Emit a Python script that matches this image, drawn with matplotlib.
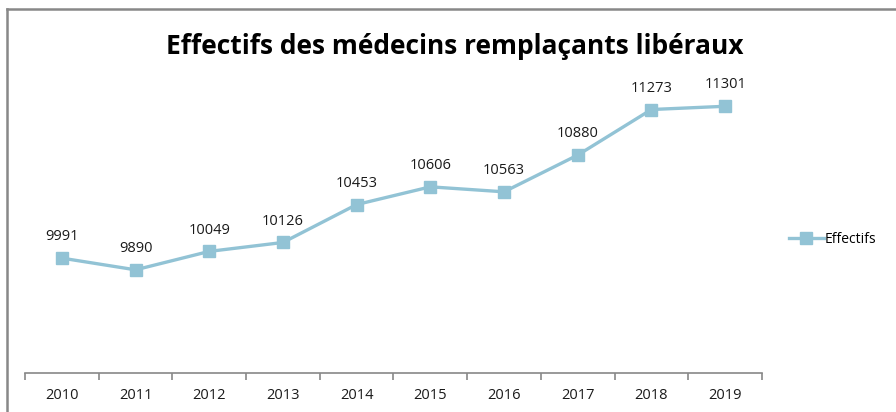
import matplotlib.pyplot as plt
import numpy as np

annees = ['2010', '2011', '2012', '2013', '2014', '2015', '2016', '2017', '2018', '2019']
effectifs = [9991, 9890, 10049, 10126, 10453, 10606, 10563, 10880, 11273, 11301]

couleur = '#92c3d5'
gris = '#888888'

plt.rcParams['font.family'] = ['Open Sans', 'DejaVu Sans']

fig = plt.figure(figsize=(8.96, 4.12), dpi=100)
ax = fig.add_axes([0.0279, 0.0947, 0.8225, 0.844])

x = np.arange(len(annees))
ax.plot(x, effectifs, color=couleur, lw=2.4, marker='s', ms=9, label='Effectifs')

for xi, v in zip(x, effectifs):
    ax.annotate(str(v), (xi, v), xytext=(0, 10), textcoords='offset points',
                ha='center', va='bottom', fontsize=10.5, color='#1a1a1a')

ax.set_xlim(-0.5, len(annees) - 0.5)
ax.set_ylim(9000, 12000)
ax.set_yticks([])
ax.set_xticks(x)
ax.set_xticklabels(annees, fontsize=10.5, color='#1a1a1a')
ax.tick_params(axis='x', which='major', length=0, pad=11)
ax.set_xticks(np.arange(-0.5, len(annees)), minor=True)
ax.tick_params(axis='x', which='minor', length=5, color=gris, width=1.2, direction='out')
for s in ['top', 'right', 'left']:
    ax.spines[s].set_visible(False)
ax.spines['bottom'].set_color(gris)
ax.spines['bottom'].set_linewidth(1.2)

fig.text(0.507, 0.888, 'Effectifs des médecins remplaçants libéraux', ha='center', va='center',
         fontsize=19, fontweight='bold')

fig.legend(loc='center left', bbox_to_anchor=(0.8745, 0.418), frameon=False,
           fontsize=10, handlelength=2.5, handletextpad=0.05, borderaxespad=0)

# cadre du graphique (bords haut et gauche visibles)
fig.add_artist(plt.Line2D([0.0073, 1.0], [0.977, 0.977], transform=fig.transFigure, color=gris, lw=1.8))
fig.add_artist(plt.Line2D([0.0073, 0.0073], [0.0, 0.977], transform=fig.transFigure, color=gris, lw=1.8))

fig.savefig('out.png', dpi=100)
